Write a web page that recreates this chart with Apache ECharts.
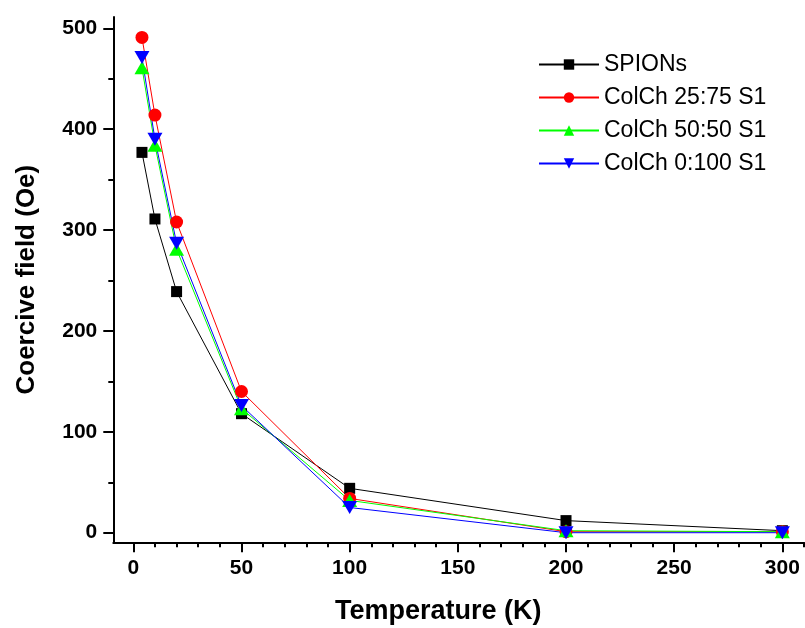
<!DOCTYPE html>
<html>
<head>
<meta charset="utf-8">
<script src="https://cdn.jsdelivr.net/npm/echarts@6/dist/echarts.min.js"></script>
<style>html,body{margin:0;padding:0;background:#fff;}#c{width:805px;height:628px;}</style>
</head>
<body>
<div id="c"></div>
<script>
const temps = [4, 10, 20, 50, 100, 200, 300];
const spions = [377, 311, 239, 118, 44, 12, 2];
const colch2575 = [491, 414, 308, 140, 34, 1, 1];
const colch5050 = [461, 384, 281, 123, 32, 2, 1];
const colch0100 = [471, 390, 287, 126, 25, 0, 0];
const seriesNames = ['SPIONs', 'ColCh 25:75 S1', 'ColCh 50:50 S1', 'ColCh 0:100 S1'];
const xTickValues = [0, 50, 100, 150, 200, 250, 300];
const yTickValues = [0, 100, 200, 300, 400, 500];

const FONT = 'Liberation Sans, Arial, sans-serif';
const chart = echarts.init(document.getElementById('c'), null, {renderer: 'canvas'});
const pair = (ys) => temps.map((t, i) => [t, ys[i]]);
const hiddenAxis = (gi, extra) => Object.assign({
  type: 'value', gridIndex: gi, min: 0, max: 1,
  axisLine: {show: false, onZero: false}, axisTick: {show: false},
  axisLabel: {show: false}, splitLine: {show: false}
}, extra || {});

const option = {
  animation: false,
  backgroundColor: '#fff',
  title: {
    text: 'Temperature (K)', left: 330, top: 593,
    textStyle: {fontFamily: FONT, fontWeight: 'bold', fontSize: 27, color: '#000'}
  },
  grid: [
    {left: 113.3, right: 1, top: 17, bottom: 85.7},
    {left: 133.3, right: 22.7, top: 17, bottom: 85.7},
    {left: 133.3, right: 1.04, top: 17, bottom: 85.7},
    {left: 113.3, right: 1, top: 28.3, bottom: 95.3}
  ],
  xAxis: [
    {type: 'value', gridIndex: 0, min: -9.25, max: 310,
      axisLine: {show: true, onZero: false, lineStyle: {color: '#000', width: 2}},
      axisTick: {show: false}, axisLabel: {show: false}, splitLine: {show: false}},
    {type: 'value', gridIndex: 1, min: xTickValues[0], max: xTickValues[xTickValues.length - 1], interval: 50,
      axisLine: {show: false, onZero: false},
      axisTick: {show: true, length: 10, lineStyle: {color: '#000', width: 2}},
      axisLabel: {show: true, margin: 15, fontFamily: FONT, fontWeight: 'bold', fontSize: 21, color: '#000',
        formatter: (v) => xTickValues.includes(v) ? String(v) : ''},
      splitLine: {show: false}},
    {type: 'value', gridIndex: 2, min: 0, max: 310, interval: 10,
      axisLine: {show: false, onZero: false},
      axisTick: {show: true, length: 5, lineStyle: {color: '#000', width: 2}},
      axisLabel: {show: false}, splitLine: {show: false}},
    hiddenAxis(3)
  ],
  yAxis: [
    {type: 'value', gridIndex: 0, min: -9.5, max: 511.2,
      axisLine: {show: true, onZero: false, lineStyle: {color: '#000', width: 2}},
      axisTick: {show: false}, axisLabel: {show: false}, splitLine: {show: false},
      name: 'Coercive field (Oe)', nameLocation: 'middle', nameGap: 73, nameRotate: 90,
      nameTextStyle: {fontFamily: FONT, fontWeight: 'bold', fontSize: 26, color: '#000'}},
    hiddenAxis(1),
    hiddenAxis(2),
    {type: 'value', gridIndex: 3, min: yTickValues[0], max: yTickValues[yTickValues.length - 1], interval: 100,
      axisLine: {show: false, onZero: false},
      axisTick: {show: true, length: 10, lineStyle: {color: '#000', width: 2}},
      minorTick: {show: true, splitNumber: 2, length: 5, lineStyle: {color: '#000', width: 2}},
      axisLabel: {show: true, margin: 16, fontFamily: FONT, fontWeight: 'bold', fontSize: 21, color: '#000',
        formatter: (v) => yTickValues.includes(v) ? String(v) : ''},
      splitLine: {show: false}}
  ],
  legend: {
    orient: 'vertical', left: 533, top: 48, itemWidth: 60, itemHeight: 13, itemGap: 10,
    data: seriesNames,
    textStyle: {fontFamily: FONT, fontSize: 23, color: '#000'}
  },
  series: [
    {name: seriesNames[0], type: 'line', data: pair(spions), xAxisIndex: 0, yAxisIndex: 0,
      symbol: 'rect', symbolSize: 11, itemStyle: {color: '#000'}, lineStyle: {color: '#000', width: 1}},
    {name: seriesNames[1], type: 'line', data: pair(colch2575), xAxisIndex: 0, yAxisIndex: 0,
      symbol: 'circle', symbolSize: 13, itemStyle: {color: '#ff0000'}, lineStyle: {color: '#ff0000', width: 1}},
    {name: seriesNames[2], type: 'line', data: pair(colch5050), xAxisIndex: 0, yAxisIndex: 0,
      symbol: 'triangle', symbolSize: [15, 13], itemStyle: {color: '#00ff00'}, lineStyle: {color: '#00ff00', width: 1}},
    {name: seriesNames[3], type: 'line', data: pair(colch0100), xAxisIndex: 0, yAxisIndex: 0,
      symbol: 'triangle', symbolRotate: 180, symbolSize: [15, 13], itemStyle: {color: '#0000ff'}, lineStyle: {color: '#0000ff', width: 1}}
  ]
};
chart.setOption(option);
</script>
</body>
</html>
